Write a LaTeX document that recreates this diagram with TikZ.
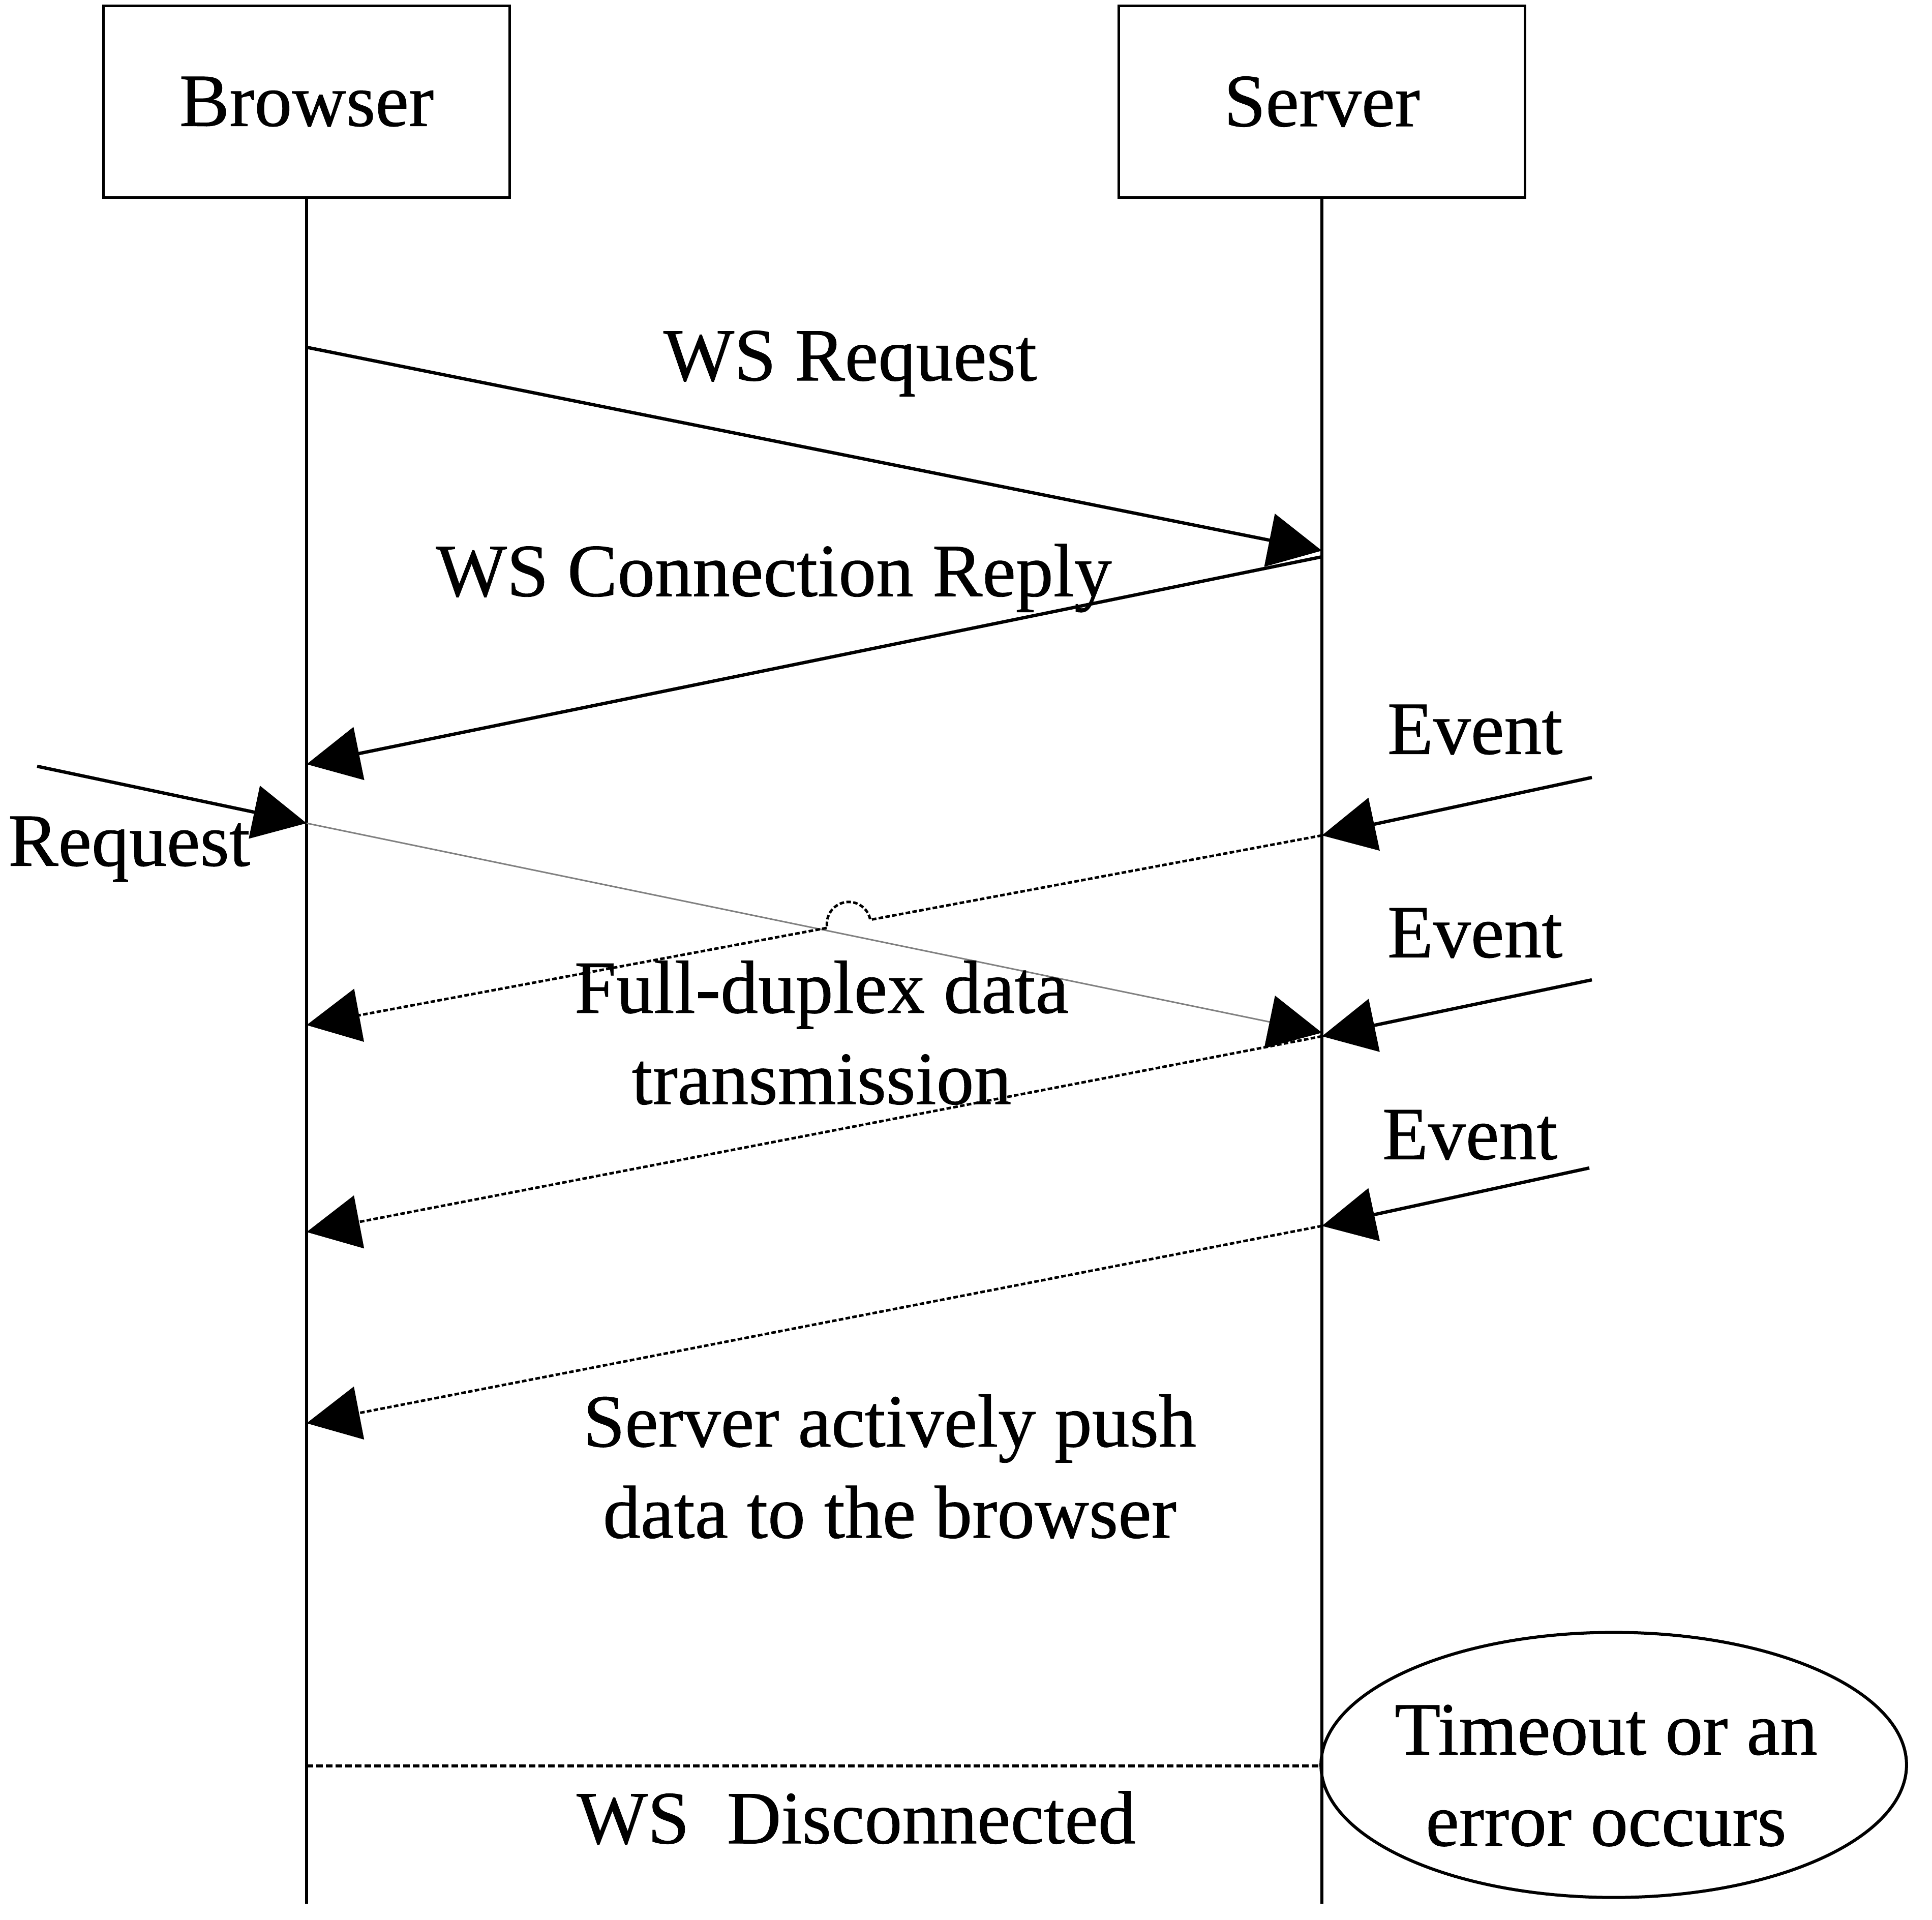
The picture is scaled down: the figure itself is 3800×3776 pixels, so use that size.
\documentclass[tikz,border=0pt]{standalone}
\usepackage{fontspec}
\setmainfont[FakeBold=0.6]{Liberation Serif}
\usetikzlibrary{arrows.meta,shapes.geometric,calc}
\tikzset{
  lbl/.style={font=\fontsize{42}{51}\selectfont, inner sep=0pt, align=center},
  actor/.style={draw, line width=0.05cm, minimum width=7.99cm, minimum height=3.76cm, font=\fontsize{42}{51}\selectfont},
  life/.style={line width=0.055cm},
  msg/.style={line width=0.065cm, -{Triangle[length=1.05cm,width=1.05cm]}},
  push/.style={msg, line width=0.05cm, dash pattern=on 0.09cm off 0.045cm},
}
\begin{document}
\begin{tikzpicture}[x=0.01cm,y=-0.01cm]
\useasboundingbox (0,0) rectangle (3800,3776);
\node[actor] (browser) at (603,200) {Browser};
\node[actor] (server) at (2600,200) {Server};
\coordinate (browserEnd) at (603,3744);
\coordinate (serverEnd) at (2600,3744);
\draw[life] (browser.south) -- (browserEnd);
\draw[life] (server.south) -- (serverEnd);
% handshake
\coordinate (reqB) at (603,683);
\coordinate (reqS) at (2600,1083);
\coordinate (repS) at (2600,1095);
\coordinate (repB) at (603,1503);
\draw[msg] (reqB) -- (reqS);
\draw[msg] (repS) -- (repB);
\node[lbl] (wsreq) at (1672,715) {WS Request};
\node[lbl] (wsrep) at (1522,1137) {WS Connection Reply};
% events and pushes
\coordinate (ev1Out) at (3131,1529);
\coordinate (ev1S) at (2600,1643);
\coordinate (push1B) at (603,2016);
\coordinate (ev2Out) at (3131,1927);
\coordinate (ev2S) at (2600,2038);
\coordinate (push2B) at (603,2423);
\coordinate (ev3Out) at (3126,2297);
\coordinate (ev3S) at (2600,2411);
\coordinate (push3B) at (603,2799);
\coordinate (reqOut) at (73,1507);
\coordinate (reqInB) at (603,1619);
\coordinate (reqInS) at (2600,2031);
\draw[msg] (ev1Out) -- (ev1S);
\draw[msg] (ev2Out) -- (ev2S);
\draw[msg] (ev3Out) -- (ev3S);
\draw[msg] (reqOut) -- (reqInB);
\draw[line width=0.03cm, gray, -{Triangle[length=1.05cm,width=1.05cm,color=black]}] (reqInB) -- (reqInS);
\coordinate (hopC) at ($(ev1S)!0.466!(push1B)$);
\coordinate (hopR) at ($(hopC)!0.43cm!(ev1S)$);
\draw[push] (ev1S) -- (hopR) arc[start angle=10.6, end angle=190.6, radius=0.43cm] -- (push1B);
\draw[push] (ev2S) -- (push2B);
\draw[push] (ev3S) -- (push3B);
\node[lbl] (event1) at (2901,1435) {Event};
\node[lbl] (event2) at (2901,1835) {Event};
\node[lbl] (event3) at (2891,2232) {Event};
\node[lbl] (request) at (254,1670) {Request};
\node[lbl] (duplex) at (1616,2031) {Full-duplex data\\transmission};
\node[lbl] (pushtxt) at (1750,2884) {Server actively push\\data to the browser};
% close
\coordinate (discB) at (603,3473);
\coordinate (discS) at (2600,3473);
\draw[line width=0.06cm, dash pattern=on 0.13cm off 0.06cm] (discB) -- (discS);
\node[lbl] (disc) at (1684,3575) {WS~~Disconnected};
\node[draw, ellipse, line width=0.06cm, minimum width=11.51cm, minimum height=5.21cm] (timeout) at (3174,3471) {};
\node[lbl] (timeouttxt) at (3159,3492) {Timeout or an\\error occurs};
\end{tikzpicture}
\end{document}
